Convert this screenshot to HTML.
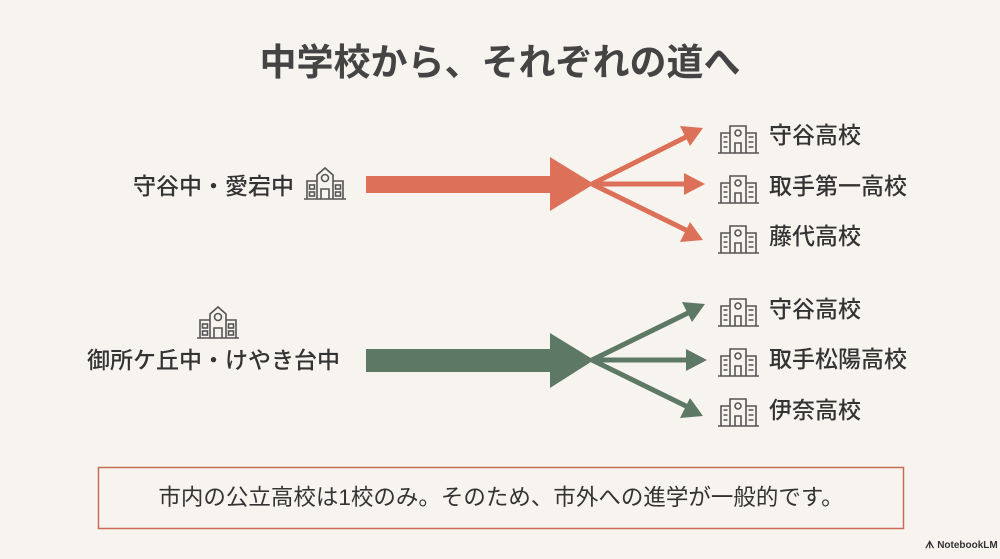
<!DOCTYPE html>
<html><head><meta charset="utf-8"><style>
html,body{margin:0;padding:0}
body{width:1000px;height:559px;background:#f7f4ef;position:relative;overflow:hidden;font-family:"Liberation Sans","Noto Sans CJK JP",sans-serif;color:#333}
.t{position:absolute;white-space:nowrap;line-height:1}
.l{font-size:23px;font-weight:500}
</style></head><body>
<svg width="1000" height="559" style="position:absolute;left:0;top:0">
<defs>
<g id="sch" fill="none" stroke="#555" stroke-width="1.6">
<path d="M2 34H44M5 34V16H15V34M15 34V10L23 3L31 10V34M31 16H41V34"/>
<circle cx="23" cy="13" r="3.5"/>
<rect x="7.5" y="20" width="5" height="4"/><rect x="7.5" y="27" width="5" height="4"/>
<rect x="33.5" y="20" width="5" height="4"/><rect x="33.5" y="27" width="5" height="4"/>
<path d="M19 34V24H27V34"/>
</g>
<g id="hs" fill="none" stroke="#555" stroke-width="1.6">
<path d="M1 32H42M4 32V12H13V32M13 32V5H29V32M29 12H39V32"/>
<circle cx="21" cy="12" r="3"/>
<path d="M6.5 16H10.5M6.5 21H10.5M6.5 26H10.5M31.5 16H36.5M31.5 21H36.5M31.5 26H36.5"/>
<path d="M18 32V22H24V32"/>
</g>
</defs>
<g fill="#dc7059" stroke="#dc7059">
<rect x="366" y="176" width="188" height="17" stroke="none"/>
<polygon points="550,157 594,184 550,211" stroke="none"/>
<g stroke-width="5" fill="none"><line x1="592" y1="184" x2="690" y2="135"/><line x1="592" y1="184" x2="690" y2="184"/><line x1="592" y1="184" x2="690" y2="232"/></g>
<polygon points="703,128 680,126 690,146" stroke="none"/>
<polygon points="705,184 684,173 684,195" stroke="none"/>
<polygon points="703,240 690,222 680,242" stroke="none"/>
</g>
<g fill="#5d7865" stroke="#5d7865">
<rect x="366" y="349" width="188" height="23" stroke="none"/>
<polygon points="550,333 594,360 550,388" stroke="none"/>
<g stroke-width="5" fill="none"><line x1="592" y1="360" x2="692" y2="311"/><line x1="592" y1="360" x2="692" y2="360"/><line x1="592" y1="360" x2="690" y2="408"/></g>
<polygon points="705,304 682,302 692,322" stroke="none"/>
<polygon points="707,360 686,349 686,371" stroke="none"/>
<polygon points="703,416 690,398 680,418" stroke="none"/>
</g>
<use href="#sch" x="302" y="165"/>
<use href="#sch" x="195" y="304"/>
<use href="#hs" x="717" y="121"/>
<use href="#hs" x="717" y="171"/>
<use href="#hs" x="717" y="221"/>
<use href="#hs" x="717" y="294"/>
<use href="#hs" x="717" y="344"/>
<use href="#hs" x="717" y="394"/>
<rect x="98.5" y="467.5" width="805" height="61" fill="none" stroke="#c96a55" stroke-width="1.5"/>
</svg>
<div class="t" style="left:0;width:1000px;text-align:center;top:44px;font-size:37px;font-weight:bold;color:#444">中学校から、それぞれの道へ</div>
<div class="t l" style="left:133px;top:175px">守谷中・愛宕中</div>
<div class="t l" style="left:87px;top:349px">御所ケ丘中・けやき台中</div>
<div class="t l" style="left:769px;top:124px">守谷高校</div>
<div class="t l" style="left:769px;top:175px">取手第一高校</div>
<div class="t l" style="left:769px;top:225px">藤代高校</div>
<div class="t l" style="left:769px;top:298px">守谷高校</div>
<div class="t l" style="left:769px;top:348px">取手松陽高校</div>
<div class="t l" style="left:769px;top:399px">伊奈高校</div>
<div class="t" style="left:98px;width:806px;text-align:center;top:487px;font-size:22.5px">市内の公立高校は1校のみ。そのため、市外への進学が一般的です。</div>
<div class="t" style="left:925px;top:541px;font-size:10px;font-weight:bold;color:#333">ᗑ NotebookLM</div>
</body></html>
